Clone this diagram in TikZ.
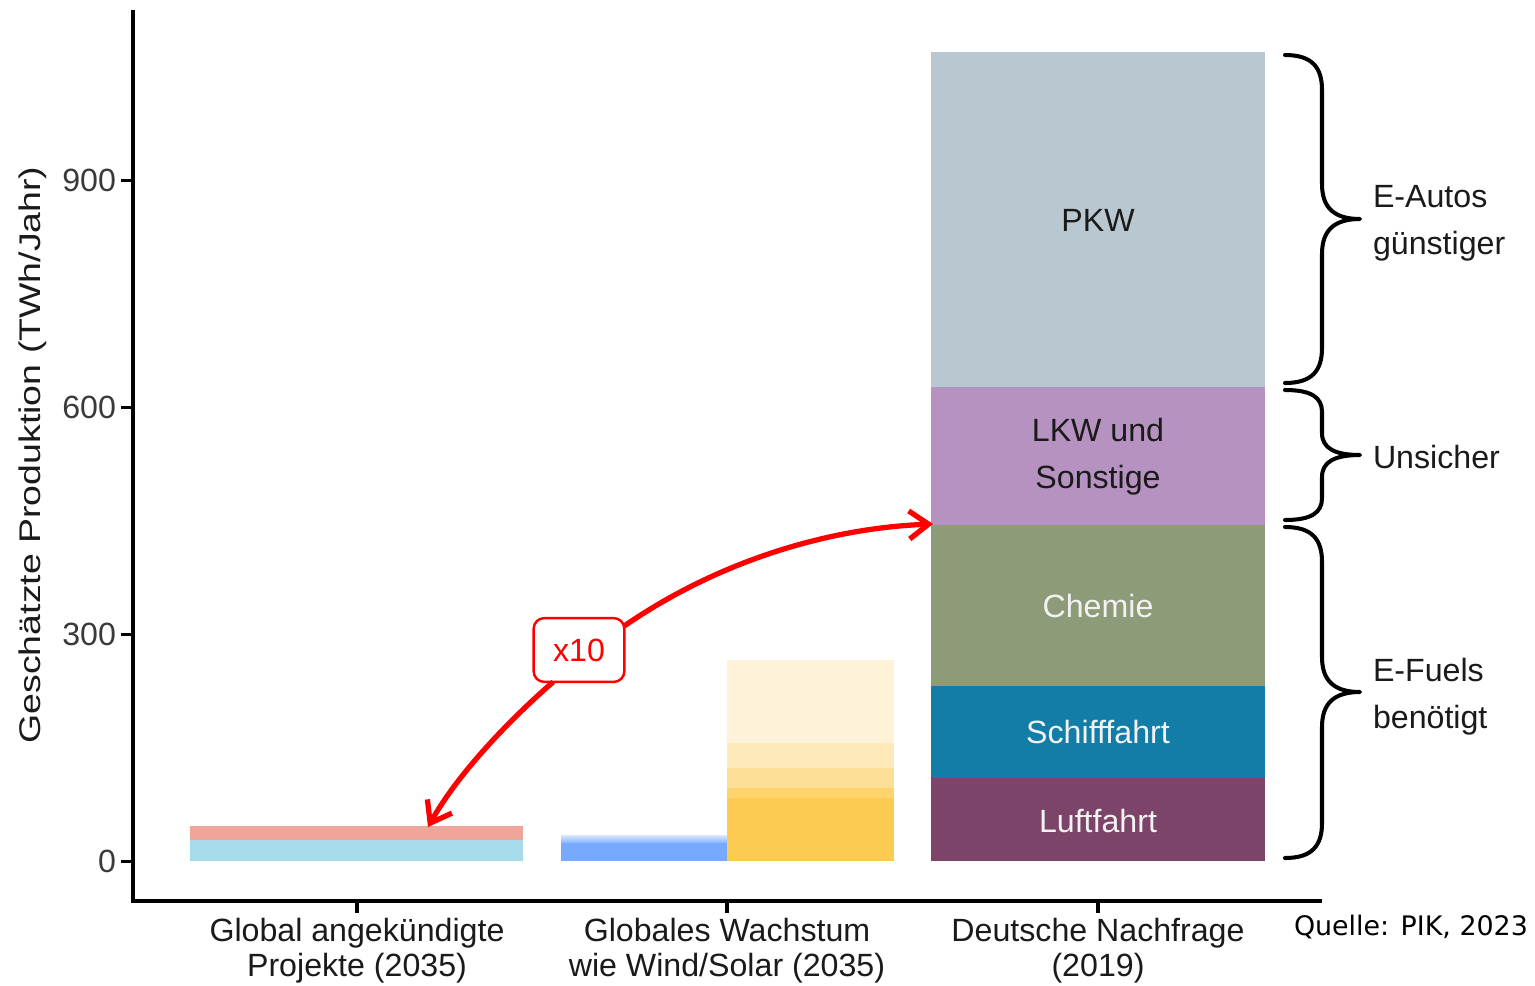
\documentclass[tikz,border=0pt]{standalone}
\usepackage{fontspec}
\setmainfont{Liberation Sans}
\newfontfamily\quellefont{DejaVu Sans}
\usetikzlibrary{arrows.meta}
\definecolor{txt}{HTML}{1A1A1A}
\definecolor{tick}{HTML}{3A3A3A}
\definecolor{bOneBlue}{HTML}{A6DCE9}
\definecolor{bOneRed}{HTML}{F0A59A}
\definecolor{bTwoBlue}{HTML}{77AAFF}
\definecolor{bTwoBlueL}{HTML}{D8E7FF}
\definecolor{yA}{HTML}{FECB52}
\definecolor{yB}{HTML}{FED36C}
\definecolor{yC}{HTML}{FEDF98}
\definecolor{yD}{HTML}{FEE9B8}
\definecolor{yE}{HTML}{FEF2D9}
\definecolor{cPKW}{HTML}{B9C7D0}
\definecolor{cLKW}{HTML}{B592BF}
\definecolor{cChem}{HTML}{8E9B79}
\definecolor{cSchiff}{HTML}{127EA8}
\definecolor{cLuft}{HTML}{7C4468}
\definecolor{lbl}{HTML}{F2F2F2}
\newcommand{\curlybr}[4]{% top, bottom, mid, r
  \draw[bracestyle] (1285,#1) .. controls (1312,#1) and (1322,{#1+0.35*#4}) .. (1322,{#1+#4})
    -- (1322,{#3-#4}) .. controls (1322,{#3-0.3*#4}) and (1335,#3) .. (1360,#3)
    .. controls (1335,#3) and (1322,{#3+0.3*#4}) .. (1322,{#3+#4})
    -- (1322,{#2-#4}) .. controls (1322,{#2-0.35*#4}) and (1312,#2) .. (1285,#2);}
\begin{document}
\begin{tikzpicture}[x=0.02cm,y=-0.02cm,
  every node/.style={inner sep=0pt, outer sep=0pt},
  big/.style={font=\fontsize{18.3}{20}\selectfont},
  xlab/.style={big, text=txt, align=center},
  barlab/.style={font=\fontsize{18.3}{26.8}\selectfont, align=center},
  bracelab/.style={font=\fontsize{18.3}{26.8}\selectfont, text=txt, align=left, anchor=west},
  ticklab/.style={big, text=tick, anchor=east},
  axis/.style={line width=2.8pt, black},
  tk/.style={line width=2.2pt, black},
  bracestyle/.style={line width=2.3pt, black, line cap=round, line join=round},
  redarrow/.style={line width=3pt, red, -{Straight Barb[length=11pt,width=16pt]}},
  x10box/.style={draw=red, line width=1.4pt, rounded corners=6pt, fill=white, text=red,
    minimum width=51.6pt, minimum height=36.3pt, big}
]
\useasboundingbox (0,0) rectangle (1535,985);
% bar 1
\fill[bOneBlue] (190,840) rectangle (523,861);
\fill[bOneRed] (190,826) rectangle (523,840);
% bar 2
\fill[bTwoBlue] (561,842) rectangle (727,861);
\shade[top color=bTwoBlueL, bottom color=bTwoBlue!80] (561,835) rectangle (727,842);
\fill[yA] (727,798) rectangle (894,861);
\fill[yB] (727,788) rectangle (894,798);
\fill[yC] (727,768) rectangle (894,788);
\fill[yD] (727,743) rectangle (894,768);
\fill[yE] (727,660) rectangle (894,743);
% bar 3
\fill[cLuft] (931,778) rectangle (1265,861);
\fill[cSchiff] (931,686) rectangle (1265,778);
\fill[cChem] (931,525) rectangle (1265,686);
\fill[cLKW] (931,387) rectangle (1265,525);
\fill[cPKW] (931,52) rectangle (1265,387);
\node[barlab, text=txt] (pkw) at (1098,220) {PKW};
\node[barlab, text=txt] (lkw) at (1098,457) {LKW und\\Sonstige};
\node[barlab, text=lbl] (chem) at (1098,606) {Chemie};
\node[barlab, text=lbl] (schiff) at (1098,732) {Schifffahrt};
\node[barlab, text=lbl] (luft) at (1098,821) {Luftfahrt};
% axes
\draw[axis] (133,10) -- (133,901) -- (1322,901);
\foreach \v/\yy in {0/861.5,300/634.5,600/407.5,900/180.5}{
  \draw[tk] (121,\yy) -- (133,\yy);
  \node[ticklab] (t\v) at (116,\yy) {\v};
}
\foreach \xx in {357,727,1098}{\draw[tk] (\xx,901) -- (\xx,913);}
\node[rotate=90, text=txt, font=\fontsize{17}{20}\selectfont] (ytitle) at (33,455)
  {\scalebox{1.255}[1]{Geschätzte Produktion (TWh/Jahr)}};
\node[xlab] (xl1) at (357,951) {Global angekündigte\\Projekte (2035)};
\node[xlab] (xl2) at (727,951) {Globales Wachstum\\wie Wind/Solar (2035)};
\node[xlab] (xl3) at (1098,951) {Deutsche Nachfrage\\(2019)};
\node[anchor=west, font=\quellefont\fontsize{15.3}{18}\selectfont, text=black] (quelle) at (1294,927) {Quelle: PIK, 2023};
% braces
\curlybr{55}{383}{219}{35}
\curlybr{390}{520}{455}{22}
\curlybr{527}{858}{692}{35}
\node[bracelab] (b1) at (1373,223) {E-Autos\\günstiger};
\node[bracelab] (b2) at (1373,457) {Unsicher};
\node[bracelab] (b3) at (1373,697) {E-Fuels\\benötigt};
% x10 arrow
\coordinate (pL) at (428,827);
\coordinate (pR) at (933,524);
\node[x10box] (x10) at (579,650) {x10};
\draw[redarrow] (x10.231) .. controls (515,715) and (460,770) .. (pL);
\draw[redarrow] (x10.28) .. controls (720,560) and (830,528) .. (pR);
\end{tikzpicture}
\end{document}
